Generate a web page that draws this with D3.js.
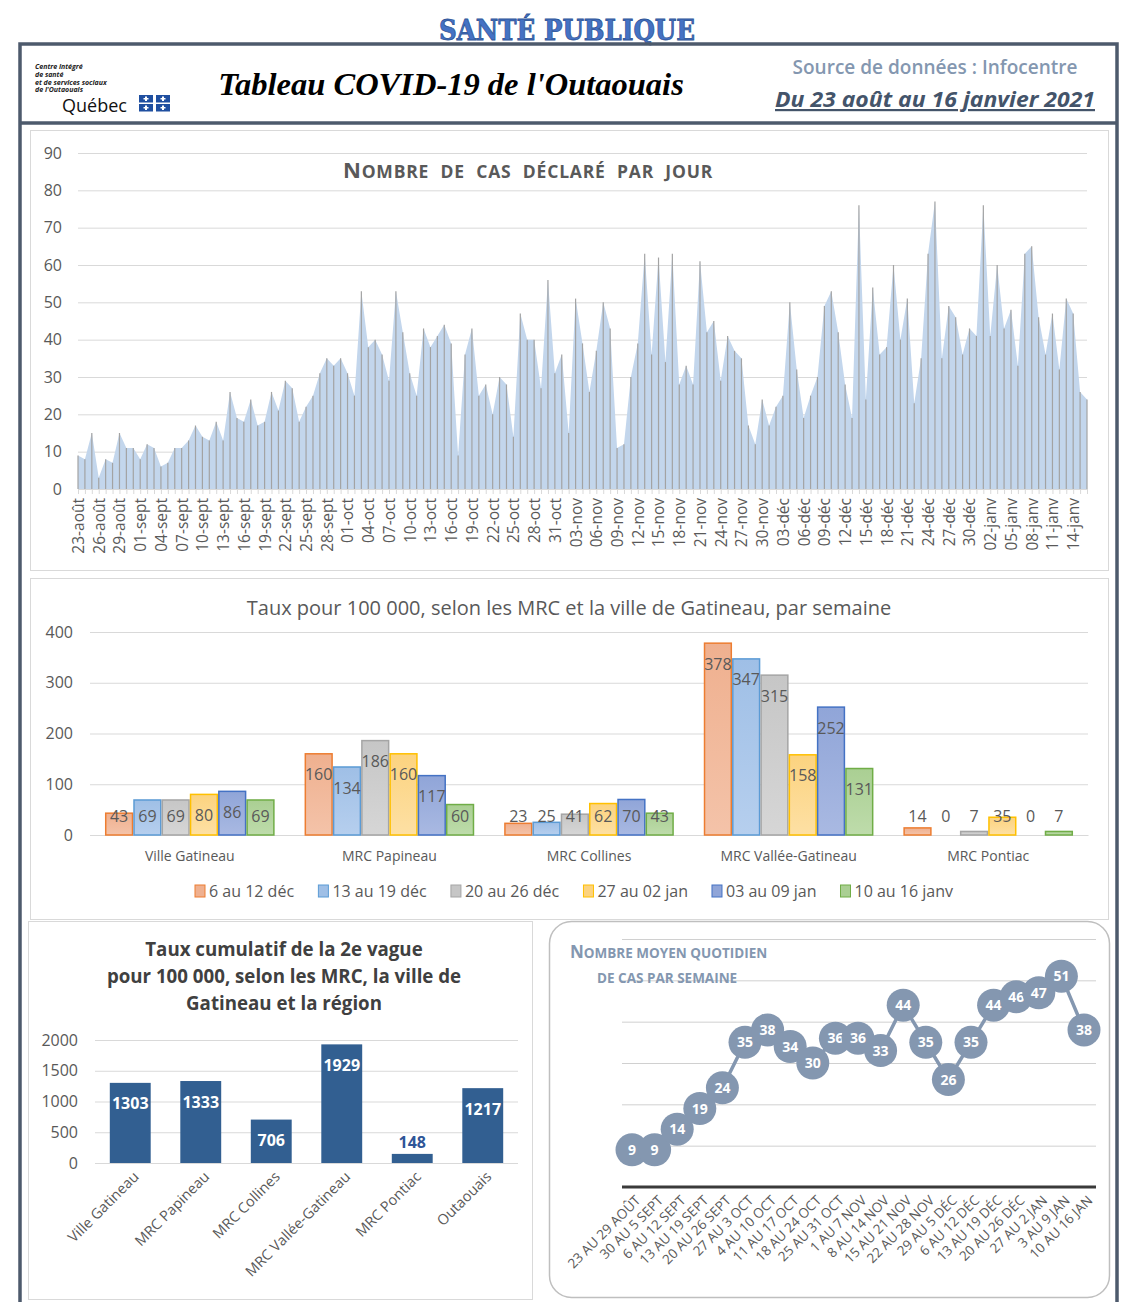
<!DOCTYPE html>
<html>
<head>
<meta charset="utf-8">
<script src="https://cdn.jsdelivr.net/npm/d3@7"></script>
<style>
  body { margin: 0; background: #fff; }
  svg text { font-family: "Open Sans", sans-serif; }
</style>
</head>
<body>
<svg id="page" width="1128" height="1302"></svg>
<script>
// ---- data ----
// cas déclarés par jour, du 23 août au 16 janvier
const dailyCases = [
  9, 8, 15, 3, 8, 7, 15, 11, 11, 8, 12, 11, 6, 7, 11, 11, 13, 17, 14, 13,
  18, 13, 26, 19, 18, 24, 17, 18, 26, 21, 29, 27, 18, 22, 25, 31, 35, 33, 35, 31,
  25, 53, 38, 40, 36, 29, 53, 42, 31, 25, 43, 38, 41, 44, 39, 9, 36, 43, 25, 28,
  20, 30, 28, 14, 47, 40, 40, 27, 56, 31, 36, 15, 51, 39, 26, 37, 50, 43, 11, 12,
  30, 39, 63, 36, 62, 34, 63, 28, 33, 28, 61, 42, 45, 29, 41, 37, 35, 17, 12, 24,
  17, 22, 25, 50, 32, 19, 25, 30, 49, 53, 42, 28, 19, 76, 24, 54, 36, 38, 60, 40,
  51, 23, 35, 63, 77, 35, 49, 46, 36, 43, 41, 76, 41, 60, 43, 48, 33, 63, 65, 46,
  36, 47, 32, 51, 47, 26, 24
];
// une étiquette tous les 3 jours
const dayTicks = [
  '23-août', '26-août', '29-août', '01-sept', '04-sept', '07-sept', '10-sept',
  '13-sept', '16-sept', '19-sept', '22-sept', '25-sept', '28-sept', '01-oct',
  '04-oct', '07-oct', '10-oct', '13-oct', '16-oct', '19-oct', '22-oct', '25-oct',
  '28-oct', '31-oct', '03-nov', '06-nov', '09-nov', '12-nov', '15-nov', '18-nov',
  '21-nov', '24-nov', '27-nov', '30-nov', '03-déc', '06-déc', '09-déc', '12-déc',
  '15-déc', '18-déc', '21-déc', '24-déc', '27-déc', '30-déc', '02-janv', '05-janv',
  '08-janv', '11-janv', '14-janv'
];

// taux pour 100 000 par semaine
const mrcNames = ['Ville Gatineau', 'MRC Papineau', 'MRC Collines', 'MRC Vallée-Gatineau', 'MRC Pontiac'];
const weekNames = ['6 au 12 déc', '13 au 19 déc', '20 au 26 déc', '27 au 02 jan', '03 au 09 jan', '10 au 16 janv'];
const rate6to12Dec = [43, 160, 23, 378, 14];
const rate13to19Dec = [69, 134, 25, 347, 0];
const rate20to26Dec = [69, 186, 41, 315, 7];
const rate27to02Jan = [80, 160, 62, 158, 35];
const rate03to09Jan = [86, 117, 70, 252, 0];
const rate10to16Jan = [69, 60, 43, 131, 7];

// taux cumulatif 2e vague
const cumNames = ['Ville Gatineau', 'MRC Papineau', 'MRC Collines', 'MRC Vallée-Gatineau', 'MRC Pontiac', 'Outaouais'];
const cumRates = [1303, 1333, 706, 1929, 148, 1217];

// nombre moyen quotidien par semaine
const weekLabels = [
  '23 AU 29 AOÛT', '30 AU 5 SEPT', '6 AU 12 SEPT', '13 AU 19 SEPT', '20 AU 26 SEPT',
  '27 AU 3 OCT', '4 AU 10 OCT', '11 AU 17 OCT', '18 AU 24 OCT', '25 AU 31 OCT',
  '1 AU 7 NOV', '8 AU 14 NOV', '15 AU 21 NOV', '22 AU 28 NOV', '29 AU 5 DÉC',
  '6 AU 12 DÉC', '13 AU 19 DÉC', '20 AU 26 DÉC', '27 AU 2 JAN', '3 AU 9 JAN', '10 AU 16 JAN'
];
const weekAvg = [9, 9, 14, 19, 24, 35, 38, 34, 30, 36, 36, 33, 44, 35, 26, 35, 44, 46, 47, 51, 38];

const textGray = '#595959';
const gridGray = '#d9d9d9';
const svg = d3.select('#page');

// ---- header & frames ----
svg.append('text')
  .attr('x', 567).attr('y', 40)
  .attr('text-anchor', 'middle')
  .attr('textLength', 256).attr('lengthAdjust', 'spacingAndGlyphs')
  .style('font-family', '"DejaVu Serif", serif')
  .style('font-weight', 'bold').style('font-size', '27px')
  .attr('fill', '#4472c4').attr('stroke', '#2f5597').attr('stroke-width', 0.8)
  .text('SANTÉ PUBLIQUE');

svg.append('rect')
  .attr('x', 20).attr('y', 44).attr('width', 1097).attr('height', 1300)
  .attr('fill', 'none').attr('stroke', '#4d5a6c').attr('stroke-width', 3.5);
svg.append('line')
  .attr('x1', 20).attr('x2', 1117).attr('y1', 123).attr('y2', 123)
  .attr('stroke', '#4d5a6c').attr('stroke-width', 3.5);

// logo
const logoLines = ['Centre intégré', 'de santé', 'et de services sociaux', "de l'Outaouais"];
svg.append('g').selectAll('text').data(logoLines).join('text')
  .attr('x', 35).attr('y', (d, i) => 69 + i * 7.8)
  .style('font-size', '7px').style('font-weight', 'bold').style('font-style', 'italic')
  .attr('fill', '#222').text((d) => d);
svg.append('text')
  .attr('x', 62).attr('y', 112)
  .style('font-size', '18px').attr('fill', '#111').text('Québec');
const flag = svg.append('g').attr('transform', 'translate(139,95)');
[[0, 0], [17, 0], [0, 9], [17, 9]].forEach(function (p) {
  flag.append('rect').attr('x', p[0]).attr('y', p[1]).attr('width', 14).attr('height', 7.5).attr('fill', '#1f4fa0');
  flag.append('rect').attr('x', p[0] + 6).attr('y', p[1] + 1.5).attr('width', 2).attr('height', 4.5).attr('fill', '#fff');
  flag.append('rect').attr('x', p[0] + 4.5).attr('y', p[1] + 3).attr('width', 5).attr('height', 1.5).attr('fill', '#fff');
});

svg.append('text')
  .attr('x', 451).attr('y', 95).attr('text-anchor', 'middle')
  .style('font-family', '"Liberation Serif", serif')
  .style('font-weight', 'bold').style('font-style', 'italic').style('font-size', '32.5px')
  .attr('fill', '#000').text("Tableau COVID-19 de l'Outaouais");

svg.append('text')
  .attr('x', 935).attr('y', 74).attr('text-anchor', 'middle')
  .attr('textLength', 285).attr('lengthAdjust', 'spacingAndGlyphs')
  .style('font-size', '20px').style('font-weight', 600)
  .attr('fill', '#8497b0').text('Source de données : Infocentre');
svg.append('text')
  .attr('x', 935).attr('y', 107).attr('text-anchor', 'middle')
  .attr('textLength', 320).attr('lengthAdjust', 'spacingAndGlyphs')
  .style('font-size', '22px').style('font-weight', 'bold').style('font-style', 'italic')
  .style('text-decoration', 'underline')
  .attr('fill', '#44546a').text('Du 23 août au 16 janvier 2021');

// panels
svg.append('rect').attr('x', 30.5).attr('y', 130.5).attr('width', 1078).attr('height', 440)
  .attr('fill', '#fff').attr('stroke', gridGray);
svg.append('rect').attr('x', 30.5).attr('y', 578.5).attr('width', 1078).attr('height', 341)
  .attr('fill', '#fff').attr('stroke', gridGray);
svg.append('rect').attr('x', 28.5).attr('y', 921.5).attr('width', 504).attr('height', 378)
  .attr('fill', '#fff').attr('stroke', gridGray);
svg.append('rect').attr('x', 549.5).attr('y', 921.5).attr('width', 560).attr('height', 376)
  .attr('rx', 22).attr('fill', '#fff').attr('stroke', '#bfbfbf').attr('stroke-width', 1.5);

function styleAxis(g, size) {
  g.select('.domain').remove();
  g.selectAll('.tick line').attr('stroke', gridGray);
  g.selectAll('.tick text').attr('fill', textGray).style('font-size', size);
}

// ---- chart 1 : cas déclarés par jour ----
const x1 = d3.scaleLinear().domain([0, dailyCases.length - 1]).range([78, 1087]);
const y1 = d3.scaleLinear().domain([0, 90]).range([489, 153]);

svg.append('g')
  .attr('transform', 'translate(78,0)')
  .call(d3.axisLeft(y1).tickValues(d3.range(0, 91, 10)).tickSize(-(1087 - 78)).tickPadding(16))
  .call((g) => styleAxis(g, '16px'));

svg.append('path')
  .datum(dailyCases)
  .attr('fill', '#c3d6ec')
  .attr('d', d3.area().x((d, i) => x1(i)).y0(y1(0)).y1((d) => y1(d)));

svg.append('g').selectAll('line').data(dailyCases).join('line')
  .attr('x1', (d, i) => x1(i)).attr('x2', (d, i) => x1(i))
  .attr('y1', (d) => y1(d)).attr('y2', y1(0))
  .attr('stroke', '#a3a3a3').attr('stroke-width', 1.2);

svg.append('g')
  .attr('transform', 'translate(0,489)')
  .call(d3.axisBottom(x1).tickValues(d3.range(0, dailyCases.length)).tickSize(5)
    .tickFormat((i) => (i % 3 === 0 ? dayTicks[i / 3] : '')))
  .call((g) => {
    g.select('.domain').attr('stroke', gridGray);
    g.selectAll('.tick line').attr('stroke', gridGray);
    g.selectAll('.tick text')
      .attr('fill', textGray).style('font-size', '15.5px')
      .attr('transform', 'rotate(-90)')
      .attr('text-anchor', 'end')
      .attr('x', -9).attr('y', 0).attr('dy', '0.35em');
  });

const t1 = svg.append('text').attr('x', 528).attr('y', 178).attr('text-anchor', 'middle')
  .attr('fill', textGray).style('font-weight', 'bold').style('letter-spacing', '0.8px')
  .style('word-spacing', '6px');
t1.append('tspan').style('font-size', '22px').text('N');
t1.append('tspan').style('font-size', '17.5px').text('OMBRE DE CAS DÉCLARÉ PAR JOUR');

// ---- chart 2 : taux par semaine ----
const weeklyTable = weekNames.map((w, k) => ({
  week: w,
  values: [rate6to12Dec, rate13to19Dec, rate20to26Dec, rate27to02Jan, rate03to09Jan, rate10to16Jan][k]
}));
const barColors = [
  { fill: '#efb08f', light: '#f4c3a9', stroke: '#ed7d31' },
  { fill: '#9fbfe6', light: '#b6cfee', stroke: '#5b9bd5' },
  { fill: '#c6c6c6', light: '#d6d6d6', stroke: '#a5a5a5' },
  { fill: '#fcd37f', light: '#fde0a4', stroke: '#ffc000' },
  { fill: '#90a5d8', light: '#a9b9e2', stroke: '#4472c4' },
  { fill: '#aacf93', light: '#bedcab', stroke: '#70ad47' }
];
const defs = svg.append('defs');
barColors.forEach(function (c, k) {
  const gr = defs.append('linearGradient').attr('id', 'grad' + k)
    .attr('x1', 0).attr('y1', 0).attr('x2', 0).attr('y2', 1);
  gr.append('stop').attr('offset', '0%').attr('stop-color', c.fill);
  gr.append('stop').attr('offset', '100%').attr('stop-color', c.light);
});

const x2 = d3.scaleBand().domain(mrcNames).range([90, 1088]).paddingInner(0.15).paddingOuter(0.075);
const x2in = d3.scaleBand().domain(weekNames).range([0, x2.bandwidth()]);
const y2 = d3.scaleLinear().domain([0, 400]).range([835, 632]);

svg.append('g')
  .attr('transform', 'translate(90,0)')
  .call(d3.axisLeft(y2).ticks(4).tickSize(-998).tickPadding(17))
  .call((g) => styleAxis(g, '16px'));

svg.append('g')
  .attr('transform', 'translate(0,835)')
  .call(d3.axisBottom(x2).tickSize(0).tickPadding(16))
  .call((g) => {
    g.select('.domain').attr('stroke', gridGray);
    g.selectAll('.tick text').attr('fill', textGray).style('font-size', '14px');
  });

weeklyTable.forEach(function (s, k) {
  const grp = svg.append('g');
  grp.selectAll('rect').data(s.values).join('rect')
    .attr('x', (d, i) => x2(mrcNames[i]) + x2in(s.week) + 0.75)
    .attr('width', x2in.bandwidth() - 1.5)
    .attr('y', (d) => y2(d))
    .attr('height', (d) => y2(0) - y2(d))
    .attr('fill', 'url(#grad' + k + ')')
    .attr('stroke', barColors[k].stroke).attr('stroke-width', 1.5)
    .attr('stroke-opacity', (d) => (d === 0 ? 0 : 1));
  grp.selectAll('text').data(s.values).join('text')
    .attr('x', (d, i) => x2(mrcNames[i]) + x2in(s.week) + x2in.bandwidth() / 2)
    .attr('y', (d) => Math.min(y2(d) + 21, y2(0) - 19))
    .attr('dy', '0.35em').attr('text-anchor', 'middle')
    .attr('fill', textGray).style('font-size', '16px')
    .text((d) => d);
});

svg.append('text')
  .attr('x', 569).attr('y', 615).attr('text-anchor', 'middle')
  .attr('fill', textGray).style('font-size', '20px')
  .text('Taux pour 100 000, selon les MRC et la ville de Gatineau, par semaine');

// légende
const legend = svg.append('g').attr('transform', 'translate(0,891)');
const items = legend.selectAll('g').data(weekNames).join('g');
items.append('rect')
  .attr('y', -6).attr('width', 10).attr('height', 12)
  .attr('fill', (d, k) => barColors[k].fill)
  .attr('stroke', (d, k) => barColors[k].stroke);
items.append('text')
  .attr('x', 14).attr('dy', '0.35em')
  .attr('fill', textGray).style('font-size', '16px')
  .text((d) => d);
let legendWidth = 0;
const itemW = [];
items.each(function () {
  const w = this.getBBox().width;
  itemW.push(w);
  legendWidth += w;
});
legendWidth += 24 * (weekNames.length - 1);
let cx = 574 - legendWidth / 2;
items.attr('transform', function (d, k) {
  const t = 'translate(' + cx + ',0)';
  cx += itemW[k] + 24;
  return t;
});

// ---- chart 3 : taux cumulatif ----
const x3 = d3.scaleBand().domain(cumNames).range([95, 518]).paddingInner(0.42).paddingOuter(0.21);
const y3 = d3.scaleLinear().domain([0, 2000]).range([1163, 1040]);

svg.append('g')
  .attr('transform', 'translate(95,0)')
  .call(d3.axisLeft(y3).tickValues([0, 500, 1000, 1500, 2000]).tickFormat(d3.format('d'))
    .tickSize(-423).tickPadding(17))
  .call((g) => styleAxis(g, '16px'));

svg.append('line').attr('x1', 95).attr('x2', 518).attr('y1', 1163.5).attr('y2', 1163.5)
  .attr('stroke', gridGray);

svg.append('g').selectAll('rect').data(cumRates).join('rect')
  .attr('x', (d, i) => x3(cumNames[i]))
  .attr('width', x3.bandwidth())
  .attr('y', (d) => y3(d))
  .attr('height', (d) => y3(0) - y3(d))
  .attr('fill', '#325f91');

svg.append('g').selectAll('text').data(cumRates).join('text')
  .attr('x', (d, i) => x3(cumNames[i]) + x3.bandwidth() / 2)
  .attr('y', (d) => (y3(0) - y3(d) > 30 ? y3(d) + 21 : y3(d) - 11))
  .attr('dy', '0.35em').attr('text-anchor', 'middle')
  .attr('fill', (d) => (y3(0) - y3(d) > 30 ? '#fff' : '#2f5597'))
  .style('font-size', '16px').style('font-weight', 'bold')
  .text((d) => d);

svg.append('g').selectAll('text').data(cumNames).join('text')
  .attr('transform', (d) => 'translate(' + (x3(d) + x3.bandwidth() / 2 + 6) + ',1174) rotate(-45)')
  .attr('text-anchor', 'end').attr('dy', '0.35em')
  .attr('fill', textGray).style('font-size', '14.5px')
  .text((d) => d);

const t3 = ['Taux cumulatif de la 2e vague', 'pour 100 000, selon les MRC, la ville de', 'Gatineau et la région'];
svg.append('g').selectAll('text').data(t3).join('text')
  .attr('x', 284).attr('y', (d, i) => 956 + i * 27)
  .attr('text-anchor', 'middle')
  .attr('fill', '#404040').style('font-size', '18.7px').style('font-weight', 'bold')
  .text((d) => d);

// ---- chart 4 : nombre moyen quotidien ----
const x4 = d3.scalePoint().domain(weekLabels).range([632, 1084]);
const y4 = d3.scaleLinear().domain([0, 60]).range([1187, 939]);

svg.append('g')
  .attr('transform', 'translate(622,0)')
  .call(d3.axisLeft(y4).tickValues(d3.range(10, 61, 10)).tickSize(-474).tickFormat(''))
  .call((g) => {
    g.select('.domain').remove();
    g.selectAll('.tick line').attr('stroke', '#d0d0d0');
  });

const t4 = svg.append('g').attr('fill', '#8497b0').style('font-weight', 'bold');
const t4a = t4.append('text').attr('x', 570).attr('y', 958);
t4a.append('tspan').style('font-size', '17px').text('N');
t4a.append('tspan').style('font-size', '13.5px').text('OMBRE MOYEN QUOTIDIEN');
t4.append('text').attr('x', 597).attr('y', 983).style('font-size', '13.5px').text('DE CAS PAR SEMAINE');

svg.append('line').attr('x1', 622).attr('x2', 1096).attr('y1', y4(0)).attr('y2', y4(0))
  .attr('stroke', '#3a3a3a').attr('stroke-width', 3);

svg.append('path')
  .datum(weekAvg)
  .attr('fill', 'none').attr('stroke', '#8497b0').attr('stroke-width', 3.5)
  .attr('d', d3.line().x((d, i) => x4(weekLabels[i])).y((d) => y4(d)));

const pts = svg.append('g').selectAll('g').data(weekAvg).join('g')
  .attr('transform', (d, i) => 'translate(' + x4(weekLabels[i]) + ',' + y4(d) + ')');
pts.append('circle').attr('r', 16.5).attr('fill', '#8497b0');
pts.append('text').attr('text-anchor', 'middle').attr('dy', '0.36em')
  .attr('fill', '#fff').style('font-size', '14px').style('font-weight', 'bold')
  .text((d) => d);

svg.append('g').selectAll('text').data(weekLabels).join('text')
  .attr('transform', (d) => 'translate(' + (x4(d) + 6) + ',1198) rotate(-45)')
  .attr('text-anchor', 'end').attr('dy', '0.35em')
  .attr('fill', textGray).style('font-size', '13.5px')
  .text((d) => d);
</script>
</body>
</html>
